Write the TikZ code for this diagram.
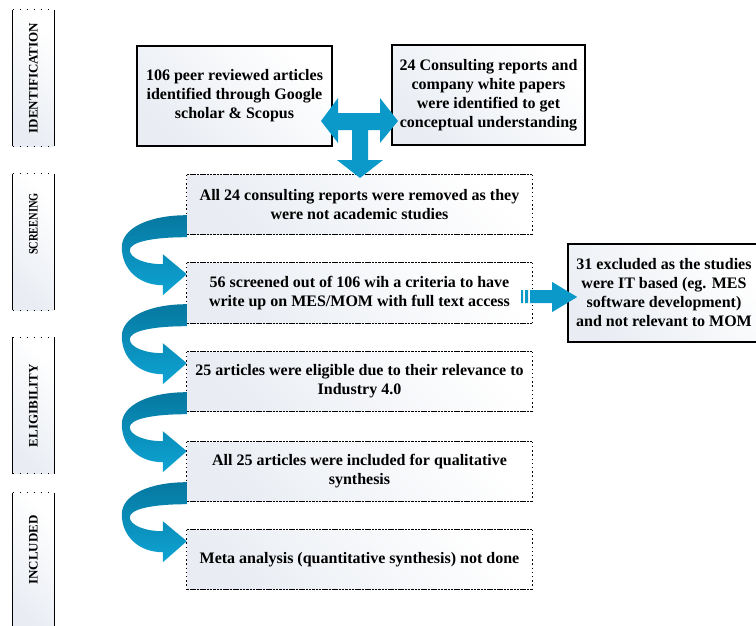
\documentclass[tikz,border=0pt]{standalone}
\usepackage{fontspec}
\setmainfont{Liberation Serif}
\usepackage{graphicx}
\usetikzlibrary{calc}

\definecolor{arrowblue}{RGB}{10,153,201}
\definecolor{curldark}{RGB}{6,120,160}
\definecolor{curllight}{RGB}{14,164,212}
\definecolor{boxgray}{RGB}{233,237,243}

\tikzset{
  boxfill/.style={top color=white, bottom color=boxgray, shading angle=-45},
  boxfont/.style={font=\fontsize{16}{19}\selectfont\bfseries},
  solidbox/.style={boxfill, draw, line width=1.3pt, align=center, inner sep=2pt, boxfont},
  dashbox/.style={boxfill, align=center, inner sep=2pt, minimum width=345pt, minimum height=59pt, boxfont},
  stagebox/.style={boxfill, minimum width=41pt, minimum height=136pt, inner sep=0pt},
  stagetext/.style={font=\fontsize{13}{13}\selectfont\bfseries, inner sep=0pt},
  hedge/.style={line width=1.3pt, dash pattern=on 2.5pt off 0.8pt},
  vedge/.style={line width=1.3pt, dash pattern=on 1.4pt off 2.8pt},
  stageh/.style={line width=1.3pt, dash pattern=on 1.5pt off 5.5pt},
  stagev/.style={line width=1.3pt},
  arrowfill/.style={fill=arrowblue, draw=none},
  curlfill/.style={top color=curldark, bottom color=curllight, draw=none}
}

\newcommand{\drawsolid}{\node[solidbox]}
\newcommand{\drawdashed}{\node[dashbox]}
\newcommand{\drawstage}{\node[stagebox]}
\newcommand{\curlarrow}[1]{%
  \path[curlfill, shift={(#1.south west)}] (0,-19)
    .. controls (-38,-19) and (-65,-6) .. (-65,13)
    .. controls (-65,35) and (-48,51) .. (-24,51)
    -- (-24,61) -- (0,40) -- (-24,20) -- (-24,30)
    .. controls (-42,30) and (-57,24) .. (-57,16)
    .. controls (-57,8) and (-35,3) .. (0,3) -- cycle;}

\begin{document}
\begin{tikzpicture}[x=1pt, y=-1pt]
\useasboundingbox (0,0) rectangle (756,625);
%stages on the left
\drawstage (stident) at (33.5,78) {};
\drawstage (stscreen) at (33.5,242) {};
\drawstage (stelig) at (33.5,405.5) {};
\drawstage (stincl) at (33.5,561) {};
\node[stagetext] (stidentlbl) at (stident.center) {\rotatebox{90}{IDENTIFICATION}};
\node[stagetext] (stscreenlbl) at ([yshift=18pt]stscreen.center) {\rotatebox{90}{\scalebox{0.8}[1]{SCREENING}}};
\node[stagetext] (steliglbl) at (stelig.center) {\rotatebox{90}{ELIGIBILITY}};
\node[stagetext] (stincllbl) at ([yshift=11pt]stincl.center) {\rotatebox{90}{INCLUDED}};
\foreach \b in {stident,stscreen,stelig,stincl}{
  \draw[stagev] (\b.north west) -- (\b.south west) (\b.north east) -- (\b.south east);
  \draw[stageh] (\b.north west) -- (\b.north east) (\b.south west) -- (\b.south east);
}

%boxes
\drawsolid[minimum width=195pt, minimum height=100pt] (peer) at (234.5,96)
  {106 peer reviewed articles\\identified through Google\\scholar \& Scopus};
\drawsolid[minimum width=193pt, minimum height=100pt] (consult) at (488.5,95)
  {24 Consulting reports and\\company white papers\\were identified to get\\conceptual understanding};
\drawdashed (removed) at (359.5,204.5)
  {All 24 consulting reports were removed as they\\were not academic studies};
\drawdashed[minimum height=60pt] (screen) at (359.5,293)
  {56 screened out of 106 wih a criteria to have\\write up on MES/MOM with full text access};
\drawdashed (eligible) at (359.5,381.5)
  {25 articles were eligible due to their relevance to\\Industry 4.0};
\drawdashed (qual) at (359.5,471.5)
  {All 25 articles were included for qualitative\\synthesis};
\drawdashed (meta) at (359.5,559.5)
  {Meta analysis (quantitative synthesis) not done};
\drawsolid[minimum width=192pt, minimum height=98pt] (excluded) at (664,293)
  {31 excluded as the studies\\were IT based (eg. MES\\software development)\\and not relevant to MOM};
\foreach \b in {removed,screen,eligible,qual,meta}{
  \draw[hedge] (\b.north west) -- (\b.north east) (\b.south west) -- (\b.south east);
  \draw[vedge] (\b.north west) -- (\b.south west) (\b.north east) -- (\b.south east);
}

%arrows
\coordinate (tee) at (360,121);
\path[arrowfill, shift={(tee)}] (-39,0) -- (-22,-23) -- (-22,-8) -- (20,-8) -- (20,-23)
  -- (38,0) -- (20,22) -- (20,9) -- (8,9) -- (8,39) -- (23,39) -- (0,57)
  -- (-23,39) -- (-8,39) -- (-8,9) -- (-22,9) -- (-22,22) -- cycle;
\curlarrow{removed}
\curlarrow{screen}
\curlarrow{eligible}
\curlarrow{qual}
\coordinate (exarr) at ($(screen.east)+(0,4)$);
\path[arrowfill, shift={(exarr)}] (-11,-7) rectangle (-9,6) (-7,-7) rectangle (-4,6)
  (-2,-7) -- (20,-7) -- (20,-15) -- (45,0) -- (20,15) -- (20,6) -- (-2,6) -- cycle;
\end{tikzpicture}
\end{document}
